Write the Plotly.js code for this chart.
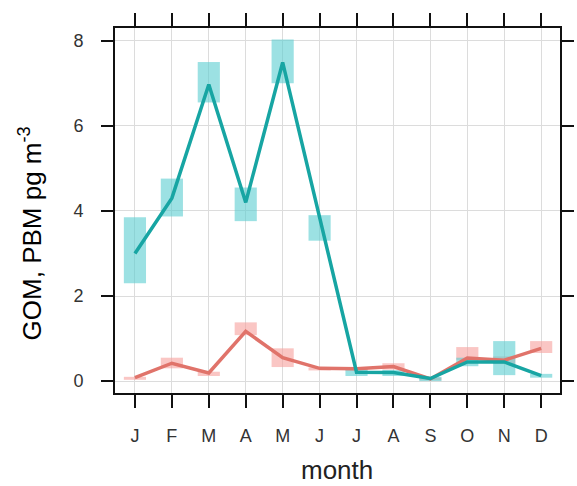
<!DOCTYPE html>
<html>
<head>
<meta charset="utf-8">
<script src="https://cdn.plot.ly/plotly-3.0.1.min.js"></script>
<style>html,body{margin:0;padding:0;background:#fff;}#chart{width:577px;height:486px;}</style>
</head>
<body>
<div id="chart"></div>
<script>
var months = [1,2,3,4,5,6,7,8,9,10,11,12];
var monthLabels = ["J","F","M","A","M","J","J","A","S","O","N","D"];
var yTicks = [0,2,4,6,8];

var gomMean = [3.0, 4.3, 6.97, 4.2, 7.49, 3.85, 0.21, 0.2, 0.06, 0.45, 0.45, 0.13];
var gomLow  = [2.3, 3.87, 6.55, 3.76, 7.0, 3.3, 0.12, 0.12, 0.0, 0.35, 0.14, 0.08];
var gomHigh = [3.85, 4.76, 7.5, 4.55, 8.03, 3.9, 0.28, 0.26, 0.1, 0.55, 0.94, 0.17];

var pbmMean = [0.08, 0.42, 0.19, 1.17, 0.55, 0.3, 0.29, 0.34, 0.05, 0.54, 0.49, 0.77];
var pbmLow  = [0.03, 0.3, 0.12, 1.08, 0.33, 0.25, 0.25, 0.27, 0.02, 0.5, 0.4, 0.66];
var pbmHigh = [0.1, 0.55, 0.22, 1.38, 0.77, 0.32, 0.33, 0.42, 0.08, 0.8, 0.58, 0.94];

function diff(a, b){ return a.map(function(v,i){ return v - b[i]; }); }

var traces = [
  {type:'bar', x:months, base:pbmLow, y:diff(pbmHigh,pbmLow), width:0.6,
   marker:{color:'rgba(246,160,156,0.6)', line:{width:0}}, hoverinfo:'skip', showlegend:false},
  {type:'bar', x:months, base:gomLow, y:diff(gomHigh,gomLow), width:0.6,
   marker:{color:'rgba(90,205,208,0.6)', line:{width:0}}, hoverinfo:'skip', showlegend:false},
  {type:'scatter', mode:'lines', x:months, y:pbmMean,
   line:{color:'#e0736a', width:3.5}, showlegend:false},
  {type:'scatter', mode:'lines', x:months, y:gomMean,
   line:{color:'#17a5a3', width:3.5}, showlegend:false}
];

var layout = {
  width:577, height:486,
  margin:{l:115, r:17, t:28, b:93},
  paper_bgcolor:'#fff', plot_bgcolor:'#fff',
  barmode:'overlay',
  font:{family:'Liberation Sans, Arial, sans-serif'},
  xaxis:{
    range:[0.46,12.51], tickvals:months, ticktext:monthLabels,
    ticks:'outside', ticklen:13, tickwidth:2, tickcolor:'#111',
    showline:true, linecolor:'#111', linewidth:2, mirror:'ticks',
    showgrid:true, gridcolor:'#dcdcdc', gridwidth:1, zeroline:false,
    tickfont:{size:18, color:'#333'}, ticklabelstandoff:12
  },
  yaxis:{
    range:[-0.28,8.3], tickvals:yTicks,
    ticks:'outside', ticklen:12, tickwidth:2, tickcolor:'#111',
    showline:true, linecolor:'#111', linewidth:2, mirror:'ticks',
    showgrid:true, gridcolor:'#dcdcdc', gridwidth:1, zeroline:false,
    tickfont:{size:18, color:'#333'}, ticklabelstandoff:14
  },
  annotations:[
    {text:'month', xref:'paper', yref:'paper', x:0.499, y:-0.211,
     xanchor:'center', yanchor:'middle', showarrow:false,
     font:{size:26, color:'#222'}},
    {text:'GOM, PBM pg m<sup>-3</sup>', xref:'paper', yref:'paper', x:-0.189, y:0.437,
     xanchor:'center', yanchor:'middle', showarrow:false, textangle:-90,
     font:{size:26, color:'#000'}}
  ]
};

Plotly.newPlot('chart', traces, layout, {displayModeBar:false, staticPlot:true});
</script>
</body>
</html>
